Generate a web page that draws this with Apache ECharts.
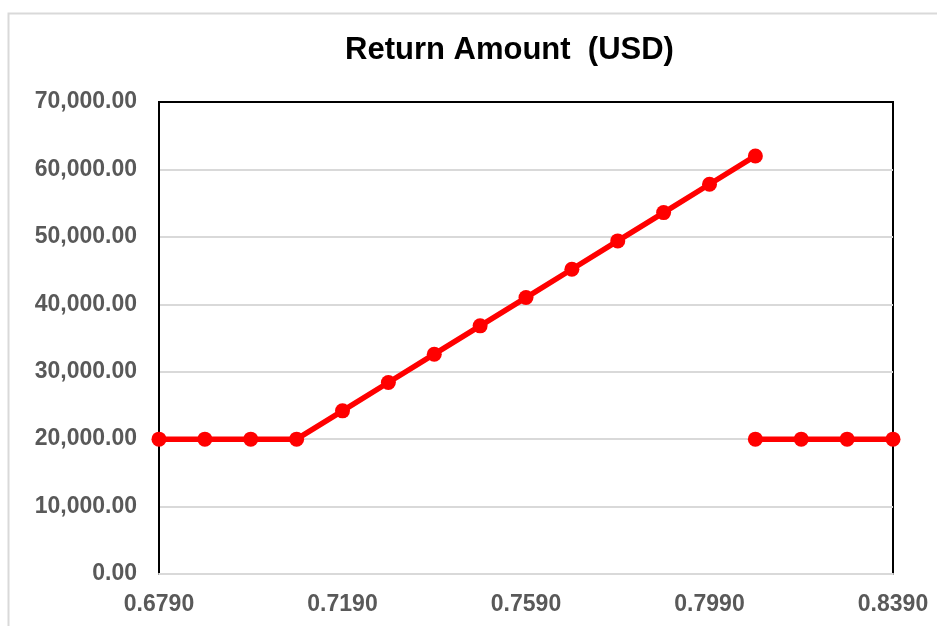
<!DOCTYPE html>
<html>
<head>
<meta charset="utf-8">
<script src="https://cdn.jsdelivr.net/npm/echarts@6/dist/echarts.min.js"></script>
<style>
html,body{margin:0;padding:0;background:#fff;}
#c{width:937px;height:626px;}
</style>
</head>
<body>
<div id="c"></div>
<script>
var title = "Return Amount  (USD)";
var rateA = [0.679, 0.689, 0.699, 0.709, 0.719, 0.729, 0.739, 0.749, 0.759, 0.769, 0.779, 0.789, 0.799, 0.809];
var returnA = [20000, 20000, 20000, 20000, 24200, 28400, 32600, 36800, 41000, 45200, 49400, 53600, 57800, 62000];
var rateB = [0.809, 0.819, 0.829, 0.839];
var returnB = [20000, 20000, 20000, 20000];

function pairs(xs, ys){ return xs.map(function(x,i){ return [x, ys[i]]; }); }

var chart = echarts.init(document.getElementById('c'));
var lineStyle = {color:'#ff0000', width:5.5};
var itemStyle = {color:'#ff0000'};
var labelFont = {fontFamily:'Liberation Sans', fontWeight:'bold', fontSize:23, color:'#595959'};
chart.setOption({
  animation:false,
  backgroundColor:'#fff',
  title:{text:title, left:340, top:30, textStyle:{fontFamily:'Liberation Sans', fontWeight:'bold', fontSize:31, color:'#000'}},
  graphic:[{type:'rect', shape:{x:8.5, y:13.5, width:1000, height:1000}, style:{fill:'none', stroke:'#d9d9d9', lineWidth:2}, silent:true}],
  grid:{left:159, right:44, top:102, bottom:52, show:true, borderColor:'#000', borderWidth:2, backgroundColor:'transparent'},
  xAxis:[{type:'value', min:0.679, max:0.839, interval:0.04,
    axisLine:{show:true, lineStyle:{color:'#d9d9d9', width:2}},
    axisTick:{show:false}, splitLine:{show:false},
    axisLabel:Object.assign({formatter:function(v){return v.toFixed(4);}, margin:19, showMinLabel:true, showMaxLabel:true}, labelFont)
  },{type:'value', position:'top', min:0.679, max:0.839, interval:0.04,
    axisLine:{show:true, lineStyle:{color:'#000', width:2}},
    axisTick:{show:false}, splitLine:{show:false}, axisLabel:{show:false}
  }],
  yAxis:{type:'value', min:0, max:70000, interval:10000,
    axisLine:{show:true, lineStyle:{color:'#000', width:2}},
    axisTick:{show:false},
    splitLine:{lineStyle:{color:'#d9d9d9', width:2}},
    axisLabel:Object.assign({formatter:function(v){return v.toLocaleString('en-US',{minimumFractionDigits:2, maximumFractionDigits:2});}, margin:22}, labelFont)
  },
  series:[
    {type:'line', xAxisIndex:0, data:pairs(rateA, returnA), symbol:'circle', symbolSize:15, lineStyle:lineStyle, itemStyle:itemStyle, clip:false},
    {type:'line', xAxisIndex:0, data:pairs(rateB, returnB), symbol:'circle', symbolSize:15, lineStyle:lineStyle, itemStyle:itemStyle, clip:false}
  ]
});
</script>
</body>
</html>
